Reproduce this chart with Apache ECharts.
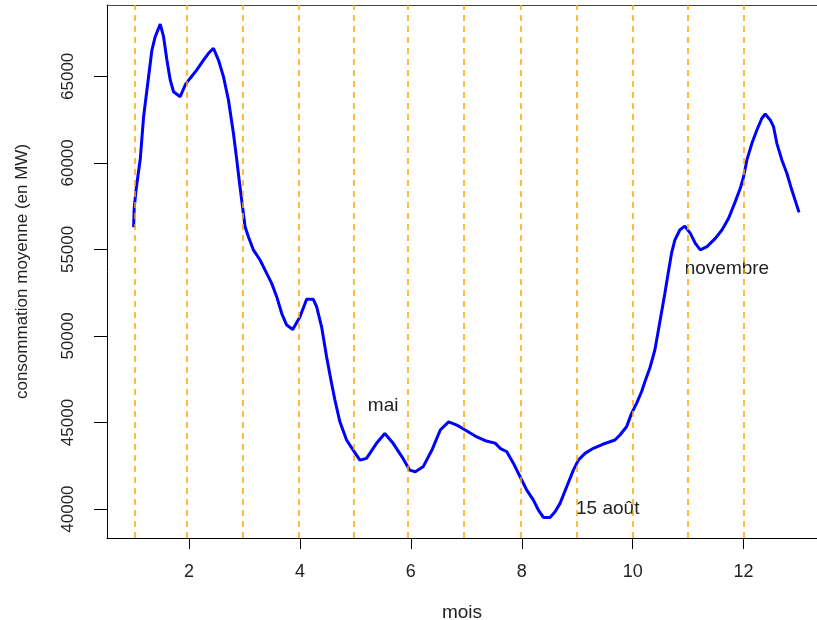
<!DOCTYPE html>
<html>
<head>
<meta charset="utf-8">
<script src="https://cdn.jsdelivr.net/npm/echarts@6/dist/echarts.min.js"></script>
<style>
html,body{margin:0;padding:0;background:#fff;}
#chart{width:817px;height:620px;}
</style>
</head>
<body>
<div id="chart"></div>
<script>
// month position (x) and mean consumption (MW)
const monthX = [1.00,1.01,1.04,1.08,1.12,1.18,1.24,1.33,1.39,1.48,1.54,1.60,1.66,1.72,1.84,1.93,2.02,2.14,2.26,2.35,2.44,2.53,2.62,2.71,2.80,2.86,2.91,2.96,3.01,3.07,3.16,3.28,3.40,3.49,3.58,3.67,3.76,3.87,4.00,4.12,4.24,4.30,4.39,4.48,4.57,4.63,4.72,4.84,4.96,5.08,5.20,5.38,5.53,5.68,5.84,5.98,6.08,6.22,6.38,6.53,6.68,6.83,6.98,7.16,7.36,7.52,7.61,7.73,7.85,7.97,8.09,8.21,8.30,8.39,8.51,8.60,8.69,8.81,8.93,9.02,9.14,9.29,9.47,9.59,9.68,9.77,9.89,9.98,10.07,10.16,10.22,10.31,10.40,10.49,10.58,10.64,10.70,10.76,10.85,10.94,11.04,11.13,11.22,11.34,11.49,11.61,11.73,11.85,11.94,12.00,12.06,12.15,12.24,12.33,12.39,12.48,12.54,12.60,12.69,12.78,12.87,13.00];
const consumption = [56280,57370,58330,59300,60220,62670,64210,66520,67290,68020,67290,65940,64790,64110,63820,64500,64890,65370,65940,66330,66620,65940,64980,63630,61710,60170,58840,57570,56310,55730,54970,54390,53620,53040,52270,51310,50630,50380,51110,52120,52120,51690,50530,48800,47260,46300,45040,43990,43410,42830,42930,43800,44370,43800,43020,42250,42160,42440,43410,44570,45040,44850,44570,44220,43930,43810,43510,43310,42640,41870,41100,40520,39940,39520,39520,39840,40330,41290,42250,42830,43220,43510,43760,43890,43990,44280,44760,45530,46110,46780,47360,48150,49190,50810,52460,53620,54770,55540,56120,56350,55930,55350,54970,55160,55640,56120,56800,57760,58530,59200,60170,61130,61900,62580,62820,62480,62090,61130,60170,59400,58430,57140];
// month boundary guides (dashed verticals)
const monthLines = [1.02,1.95,2.96,3.97,4.97,5.94,6.96,7.98,8.99,10.0,11.0,12.0];
// axis ticks
const xTicks = [2,4,6,8,10,12];
const yTicks = [40000,45000,50000,55000,60000,65000];
// annotations
const annotLabels = ['mai','15 août','novembre'];
const annotX = [5.5,9.55,11.7];
const annotY = [45950,40000,53880];

const FONT = 'Liberation Sans, Arial, sans-serif';
const chart = echarts.init(document.getElementById('chart'), null, {renderer:'canvas'});
const lineData = monthX.map((x,i)=>[x, consumption[i]]);
const annotData = annotLabels.map((n,i)=>({name:n, value:[annotX[i], annotY[i]]}));
const X_MIN = 0.52, X_MAX = 13.324;

chart.setOption({
  animation:false,
  backgroundColor:'#fff',
  grid:{left:107, top:5, right:0, height:533, show:false, containLabel:false, outerBoundsMode:'none'},
  xAxis:[{
    type:'value', min:X_MIN, max:X_MAX, position:'bottom',
    name:'mois', nameLocation:'middle', nameGap:65,
    nameTextStyle:{fontFamily:FONT, fontSize:19, color:'#222'},
    axisLine:{show:true, onZero:false, lineStyle:{color:'#000', width:1}},
    axisTick:{show:true, length:11, customValues:xTicks, lineStyle:{color:'#000', width:1}},
    axisLabel:{show:true, customValues:xTicks, margin:25, fontFamily:FONT, fontSize:18, color:'#222'},
    splitLine:{show:false}
  },{
    type:'value', min:X_MIN, max:X_MAX, position:'top',
    axisLine:{show:true, onZero:false, lineStyle:{color:'#444', width:1}},
    axisTick:{show:false}, axisLabel:{show:false}, splitLine:{show:false}
  }],
  yAxis:{
    type:'value', min:38330, max:69120,
    name:'consommation moyenne (en MW)', nameLocation:'middle', nameGap:76, nameRotate:90,
    nameTextStyle:{fontFamily:FONT, fontSize:17, color:'#222'},
    axisLine:{show:true, onZero:false, lineStyle:{color:'#000', width:1}},
    axisTick:{show:true, length:13, customValues:yTicks, lineStyle:{color:'#000', width:1}},
    axisLabel:{show:true, customValues:yTicks, rotate:90, margin:30, fontFamily:FONT, fontSize:17, color:'#222',
      formatter:v=>String(Math.round(v))},
    splitLine:{show:false}
  },
  series:[
    {
      type:'line', data:[], z:1, silent:true,
      markLine:{
        silent:true, symbol:'none', animation:false,
        label:{show:false},
        lineStyle:{color:'#FFA500', width:1.5, type:[6,5]},
        data: monthLines.map(v=>({xAxis:v}))
      }
    },
    {
      type:'line', data:lineData, z:3, showSymbol:false, smooth:false,
      lineStyle:{color:'#0000FF', width:3}, itemStyle:{color:'#0000FF'}
    },
    {
      type:'scatter', data:annotData, z:4, symbolSize:0.1, silent:true,
      itemStyle:{color:'#000', opacity:1},
      label:{show:true, position:'inside', formatter:p=>p.name, fontFamily:FONT, fontSize:19,
        color:'#222', textBorderWidth:0, textShadowBlur:0}
    }
  ]
});
</script>
</body>
</html>
